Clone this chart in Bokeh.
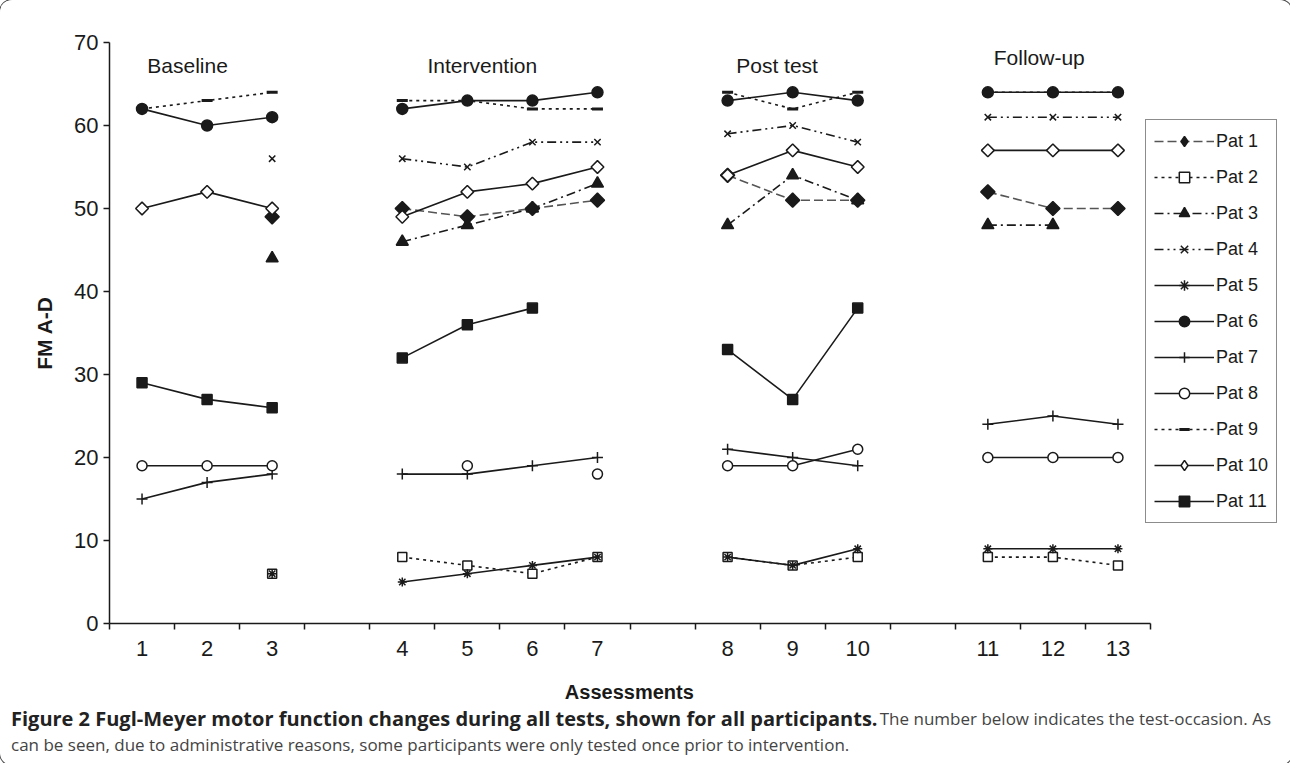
import math
from bokeh.plotting import figure
from bokeh.layouts import column
from bokeh.models import (FixedTicker, Legend, LegendItem, Label, Div,
                          ColumnDataSource, Range1d)
from bokeh.embed import file_html
from bokeh.resources import INLINE

nan = float("nan")

# ---- data -------------------------------------------------------------
slots = list(range(1, 17))
tick_labels = ["1", "2", "3", "", "4", "5", "6", "7", "", "8", "9", "10", "", "11", "12", "13"]
group_names = ["Baseline", "Intervention", "Post test", "Follow-up"]
patients = ["Pat 1", "Pat 2", "Pat 3", "Pat 4", "Pat 5", "Pat 6",
            "Pat 7", "Pat 8", "Pat 9", "Pat 10", "Pat 11"]

pat1 = [nan, nan, 49, nan, 50, 49, 50, 51, nan, 54, 51, 51, nan, 52, 50, 50]
pat2 = [nan, nan, 6, nan, 8, 7, 6, 8, nan, 8, 7, 8, nan, 8, 8, 7]
pat3 = [nan, nan, 44, nan, 46, 48, 50, 53, nan, 48, 54, 51, nan, 48, 48, nan]
pat4 = [nan, nan, 56, nan, 56, 55, 58, 58, nan, 59, 60, 58, nan, 61, 61, 61]
pat5 = [nan, nan, 6, nan, 5, 6, 7, 8, nan, 8, 7, 9, nan, 9, 9, 9]
pat6 = [62, 60, 61, nan, 62, 63, 63, 64, nan, 63, 64, 63, nan, 64, 64, 64]
pat7 = [15, 17, 18, nan, 18, 18, 19, 20, nan, 21, 20, 19, nan, 24, 25, 24]
pat8 = [19, 19, 19, nan, nan, 19, nan, 18, nan, 19, 19, 21, nan, 20, 20, 20]
pat9 = [62, 63, 64, nan, 63, 63, 62, 62, nan, 64, 62, 64, nan, 64, 64, 64]
pat10 = [50, 52, 50, nan, 49, 52, 53, 55, nan, 54, 57, 55, nan, 57, 57, 57]
pat11 = [29, 27, 26, nan, 32, 36, 38, nan, nan, 33, 27, 38, nan, nan, nan, nan]

series = [pat1, pat2, pat3, pat4, pat5, pat6, pat7, pat8, pat9, pat10, pat11]

x_title = "Assessments"
y_title = "FM A-D"
caption_bold = "Figure 2 Fugl-Meyer motor function changes during all tests, shown for all participants."
caption_rest = "The number below indicates the test-occasion. As"
caption_line2 = "can be seen, due to administrative reasons, some participants were only tested once prior to intervention."

# ---- styles -----------------------------------------------------------
INK = "#1a1a1a"
Q = math.pi / 4
styles = [
    dict(dash="9 4", lcolor="#555555", marker="square", size=10, angle=Q, fill=INK, leg="diamond"),
    dict(dash="3 4", lcolor=INK, marker="square", size=9, angle=0, fill="white", leg=None),
    dict(dash="9 4 2 4", lcolor=INK, marker="triangle", size=12, angle=0, fill=INK, leg=None),
    dict(dash="9 4 2 4 2 4", lcolor=INK, marker="x", size=9, angle=0, fill=None, leg=None),
    dict(dash="solid", lcolor=INK, marker="asterisk", size=9, angle=0, fill=None, leg=None),
    dict(dash="solid", lcolor=INK, marker="circle", size=11, angle=0, fill=INK, leg=None),
    dict(dash="solid", lcolor=INK, marker="cross", size=11, angle=0, fill=None, leg=None),
    dict(dash="solid", lcolor=INK, marker="circle", size=10, angle=0, fill="white", leg=None),
    dict(dash="3 4", lcolor=INK, marker="dash", size=11, angle=0, fill=None, leg=None),
    dict(dash="solid", lcolor=INK, marker="square", size=9, angle=Q, fill="white", leg="diamond"),
    dict(dash="solid", lcolor=INK, marker="square", size=10, angle=0, fill=INK, leg=None),
]

FONT = "Liberation Sans"
W = 1282
LEFT = 109
SLOT_PX = 1041 / 16.0
x_end = 0.5 + (W - LEFT) / SLOT_PX

p = figure(width=W, height=708, output_backend="svg", toolbar_location=None,
           x_range=Range1d(0.5, x_end), y_range=Range1d(0, 70),
           min_border_left=LEFT, min_border_right=0,
           min_border_top=42, min_border_bottom=85)
p.outline_line_color = None
p.grid.visible = False
p.background_fill_color = "white"
p.border_fill_color = "white"

# x axis (drawn only over the 16 category slots)
p.xaxis.bounds = (0.5, 16.5)
p.xaxis.ticker = FixedTicker(ticks=[s for s, l in zip(slots, tick_labels) if l],
                             minor_ticks=[0.5 + i for i in range(17)])
p.xaxis.major_label_overrides = {s: l for s, l in zip(slots, tick_labels) if l}
p.xaxis.major_tick_out = 0
p.xaxis.major_tick_in = 0
p.xaxis.minor_tick_out = 6
p.xaxis.minor_tick_in = 0
p.xaxis.minor_tick_line_color = INK
p.xaxis.minor_tick_line_width = 1.5
p.xaxis.major_label_standoff = 11
# trailing no-break spaces centre the visible title over the axis line
p.xaxis.axis_label = x_title + "\u00a0" * 24
p.xaxis.axis_label_standoff = 22

# y axis
p.yaxis.ticker = FixedTicker(ticks=list(range(0, 71, 10)), minor_ticks=[])
p.yaxis.major_tick_out = 6
p.yaxis.major_tick_in = 0
p.yaxis.major_label_standoff = 5
p.yaxis.axis_label = y_title
p.yaxis.axis_label_standoff = 15

for ax in (p.xaxis, p.yaxis):
    ax.axis_line_color = INK
    ax.axis_line_width = 1.5
    ax.major_tick_line_color = INK
    ax.major_tick_line_width = 1.5
    ax.major_label_text_font = FONT
    ax.major_label_text_font_size = "22px"
    ax.major_label_text_color = INK
    ax.axis_label_text_font = FONT
    ax.axis_label_text_font_style = "bold"
    ax.axis_label_text_color = INK
p.xaxis.axis_label_text_font_size = "20px"
p.yaxis.axis_label_text_font_size = "21px"

# series
items = []
for name, vals, st in zip(patients, series, styles):
    src = ColumnDataSource(dict(x=slots, y=vals))
    lr = p.line("x", "y", source=src, line_color=st["lcolor"], line_width=1.6,
                line_dash=st["dash"])
    kw = dict(size=st["size"], line_color=INK, line_width=1.5)
    if st["fill"] is None:
        kw["fill_alpha"] = 0
    else:
        kw["fill_color"] = st["fill"]
    if st["marker"] == "dash":
        kw["line_width"] = 3
    sr = p.scatter("x", "y", source=src, marker=st["marker"], angle=st["angle"], **kw)
    if st["leg"]:
        # legend swatch (the legend draws markers unrotated)
        lsrc = ColumnDataSource(dict(x=[nan], y=[nan]))
        sr = p.scatter("x", "y", source=lsrc, marker=st["leg"], **kw)
    items.append(LegendItem(label=name, renderers=[lr, sr]))

legend = Legend(items=items, location=(1036, 100),
                border_line_color=INK, border_line_width=1.5,
                background_fill_color="white", background_fill_alpha=1,
                padding=8, spacing=10, margin=0,
                glyph_width=60, glyph_height=26, label_height=20,
                label_standoff=2,
                label_text_font=FONT, label_text_font_size="18px",
                label_text_color=INK)
p.add_layout(legend)

# group labels
group_x = [1.70, 6.23, 10.76, 14.79]
group_y = [67.2, 67.2, 67.2, 68.2]
for name, gx, gy in zip(group_names, group_x, group_y):
    p.add_layout(Label(x=gx, y=gy, text=name, text_align="center",
                       text_baseline="middle", text_font=FONT,
                       text_font_size="21px", text_color=INK))

# caption
html = (
    '<div style="font-family:\'Open Sans\',sans-serif;line-height:26px;'
    'margin-top:-7px;padding:0 0 0 6px;width:1266px;">'
    '<div style="display:flex;justify-content:space-between;white-space:nowrap;">'
    f'<span style="font-weight:bold;font-size:20px;color:#222222;">{caption_bold}</span>'
    f'<span style="font-size:17px;color:#444444;">{caption_rest}</span>'
    '</div>'
    f'<div style="font-size:17px;color:#444444;white-space:nowrap;">{caption_line2}</div>'
    '</div>'
)
cap = Div(text=html, width=W, height=47)

layout = column(p, cap, spacing=0,
                styles={"box-shadow": "0 0 0 1px #444444",
                        "border-radius": "12px", "overflow": "hidden"})

open("out.html", "w").write(file_html(layout, INLINE))
